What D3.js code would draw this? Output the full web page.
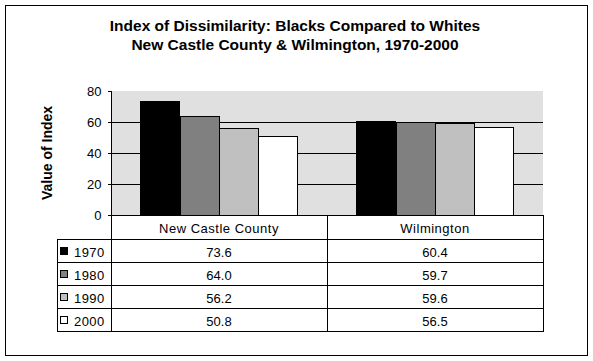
<!DOCTYPE html>
<html>
<head>
<meta charset="utf-8">
<script src="https://cdnjs.cloudflare.com/ajax/libs/d3/7.8.5/d3.min.js"></script>
<style>
  body { margin: 0; background: #fff; }
  text { font-family: "Liberation Sans", Arial, sans-serif; fill: #000; }
</style>
</head>
<body>
<div id="chart"></div>
<script>
var categories = ["New Castle County", "Wilmington"];
var years = ["1970", "1980", "1990", "2000"];
var values = {
    "1970": [73.6, 60.4],
    "1980": [64.0, 59.7],
    "1990": [56.2, 59.6],
    "2000": [50.8, 56.5]
};
var colors = ["#000000", "#808080", "#c0c0c0", "#ffffff"];
var yTicks = [0, 20, 40, 60, 80];

var width = 593, height = 361;
var plot = { left: 111, right: 543, top: 91, bottom: 215 };
var table = { left: 57, header: 24, row: 23 };

var svg = d3.select("#chart").append("svg")
    .attr("width", width)
    .attr("height", height)
    .attr("shape-rendering", "crispEdges");

// outer frame
svg.append("rect")
    .attr("x", 5.5).attr("y", 5.5)
    .attr("width", 582).attr("height", 350)
    .attr("fill", "#fff")
    .attr("stroke", "#000");

// title
svg.append("text")
    .attr("x", 295).attr("y", 31)
    .attr("text-anchor", "middle")
    .style("font-size", "15.5px").style("font-weight", "bold")
    .text("Index of Dissimilarity: Blacks Compared to Whites");
svg.append("text")
    .attr("x", 295).attr("y", 50)
    .attr("text-anchor", "middle")
    .style("font-size", "15.5px").style("font-weight", "bold")
    .text("New Castle County & Wilmington, 1970-2000");

var y = d3.scaleLinear().domain([0, 80]).range([plot.bottom, plot.top]);
var x0 = d3.scaleBand().domain(categories).range([plot.left, plot.right]);
var x1 = d3.scaleBand().domain(years).range([0, x0.bandwidth()])
    .paddingInner(0).paddingOuter(0.75);

// plot background
svg.append("rect")
    .attr("x", plot.left).attr("y", plot.top)
    .attr("width", plot.right - plot.left)
    .attr("height", plot.bottom - plot.top)
    .attr("fill", "#e0e0e0");

// gridlines
svg.selectAll(".grid")
    .data(yTicks.filter(function (d) { return d > 0 && d < 80; }))
    .enter().append("line")
    .attr("x1", plot.left).attr("x2", plot.right)
    .attr("y1", function (d) { return Math.round(y(d)) + 0.5; })
    .attr("y2", function (d) { return Math.round(y(d)) + 0.5; })
    .attr("stroke", "#000");

// bars
years.forEach(function (yr, i) {
    svg.selectAll(".bar" + yr)
        .data(values[yr])
        .enter().append("rect")
        .attr("x", function (d, j) { return Math.round(x0(categories[j]) + x1(yr)) + 0.5; })
        .attr("y", function (d) { return Math.round(y(d)) + 0.5; })
        .attr("width", Math.round(x1.bandwidth()))
        .attr("height", function (d) { return Math.round(y(0)) - Math.round(y(d)); })
        .attr("fill", colors[i])
        .attr("stroke", "#000");
});

// y axis
var axis = svg.append("g")
    .attr("transform", "translate(" + (plot.left + 0.5) + ",0.5)")
    .call(d3.axisLeft(y).tickValues(yTicks).tickSize(4).tickPadding(6)
        .tickFormat(d3.format("d")));
axis.select(".domain").remove();
axis.selectAll("line").attr("stroke", "#000");
axis.selectAll(".tick").attr("transform", function (d) {
    return "translate(0," + Math.round(y(d)) + ")";
});
axis.selectAll("text")
    .style("font-size", "13px")
    .style("font-family", "'Liberation Sans', Arial, sans-serif")
    .attr("dy", "0.36em")
    .attr("fill", "#000");

svg.append("text")
    .attr("transform", "translate(52," + ((plot.top + plot.bottom) / 2) + ") rotate(-90)")
    .attr("text-anchor", "middle")
    .style("font-size", "14px").style("font-weight", "bold")
    .text("Value of Index");

// data table
var headTop = Math.round(y(0));
var rowTop = headTop + table.header;
var tableBottom = rowTop + table.row * years.length;

var lines = svg.append("g").attr("stroke", "#000");
lines.append("line")
    .attr("x1", plot.left).attr("x2", plot.right + 1)
    .attr("y1", headTop + 0.5).attr("y2", headTop + 0.5);
for (var r = 0; r <= years.length; r++) {
    lines.append("line")
        .attr("x1", table.left).attr("x2", plot.right + 1)
        .attr("y1", rowTop + r * table.row + 0.5)
        .attr("y2", rowTop + r * table.row + 0.5);
}
lines.append("line")
    .attr("x1", plot.left + 0.5).attr("x2", plot.left + 0.5)
    .attr("y1", plot.top).attr("y2", tableBottom + 1);
lines.append("line")
    .attr("x1", table.left + 0.5).attr("x2", table.left + 0.5)
    .attr("y1", rowTop).attr("y2", tableBottom + 1);
categories.forEach(function (c) {
    var xr = Math.round(x0(c) + x0.bandwidth()) + 0.5;
    lines.append("line")
        .attr("x1", xr).attr("x2", xr)
        .attr("y1", headTop).attr("y2", tableBottom + 1);
});

svg.selectAll(".cat")
    .data(categories)
    .enter().append("text")
    .attr("x", function (d) { return x0(d) + x0.bandwidth() / 2; })
    .attr("y", headTop + 18)
    .attr("text-anchor", "middle")
    .style("font-size", "13px")
    .style("letter-spacing", "0.5px")
    .text(function (d) { return d; });

years.forEach(function (yr, i) {
    var top = rowTop + i * table.row;
    svg.append("rect")
        .attr("x", 60.5).attr("y", top + 8.5)
        .attr("width", 7).attr("height", 7)
        .attr("fill", colors[i]).attr("stroke", "#000");
    svg.append("text")
        .attr("x", 74).attr("y", top + 18)
        .style("font-size", "13px")
        .style("letter-spacing", "0.4px")
        .text(yr);
    svg.selectAll(".val" + yr)
        .data(values[yr])
        .enter().append("text")
        .attr("x", function (d, j) { return x0(categories[j]) + x0.bandwidth() / 2; })
        .attr("y", top + 18)
        .attr("text-anchor", "middle")
        .style("font-size", "13px")
        .text(function (d) { return d.toFixed(1); });
});
</script>
</body>
</html>
